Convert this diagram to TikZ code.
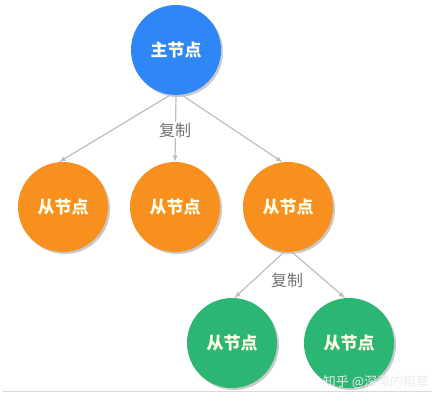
\documentclass[tikz,border=0pt]{standalone}
\usepackage{fontspec}
\newfontfamily\cjk{Noto Sans CJK SC}
\usetikzlibrary{shadows}

\definecolor{masterblue}{HTML}{2F86F7}
\definecolor{slaveorange}{HTML}{F8901F}
\definecolor{slavegreen}{HTML}{2BB673}
\definecolor{linkgray}{HTML}{BDBDBD}

\begin{document}
\begin{tikzpicture}[x=1pt,y=-1pt,
  nodeball/.style={circle,draw=none,minimum size=90pt,inner sep=0pt,
    text=white!90!yellow,font=\cjk\bfseries\fontsize{17}{17}\selectfont,
    drop shadow={shadow xshift=2pt,shadow yshift=-2pt,fill=black!35,opacity=0.6}},
  copyline/.style={draw=linkgray,line width=1.2pt,-latex},
  copylabel/.style={font=\cjk\fontsize{16}{16}\selectfont,text=black!55,fill=white,inner sep=1pt}]

  \useasboundingbox (0,0) rectangle (443,401);

  \draw (176,50) node[nodeball,fill=masterblue] (m) {主节点};

  \draw (63,207) node[nodeball,fill=slaveorange] (s1) {从节点};
  \draw (175,207) node[nodeball,fill=slaveorange] (s2) {从节点};
  \draw (288,207) node[nodeball,fill=slaveorange] (s3) {从节点};

  \draw (232,343) node[nodeball,fill=slavegreen] (g1) {从节点};
  \draw (349,343) node[nodeball,fill=slavegreen] (g2) {从节点};

  \draw[copyline] (m.263) -- (s1.95);
  \draw[copyline] (m.south) -- (s2.north);
  \draw[copyline] (m.277) -- (s3.97);
  \draw[copyline] (s3.265) -- (g1.87);
  \draw[copyline] (s3.275) -- (g2.95);

  \draw (175,130) node[copylabel] (c1) {复制};
  \draw (287,280) node[copylabel,fill=none] (c2) {复制};

  % bottom rule and watermark
  \draw[black!15,line width=0.8pt] (3,391) coordinate (r1) -- (432,391) coordinate (r2);
  \draw (376,382) node[font=\cjk\fontsize{13}{13}\selectfont,text=white!85!gray] (wm) {知乎 @深漂的稻草};

\end{tikzpicture}
\end{document}
